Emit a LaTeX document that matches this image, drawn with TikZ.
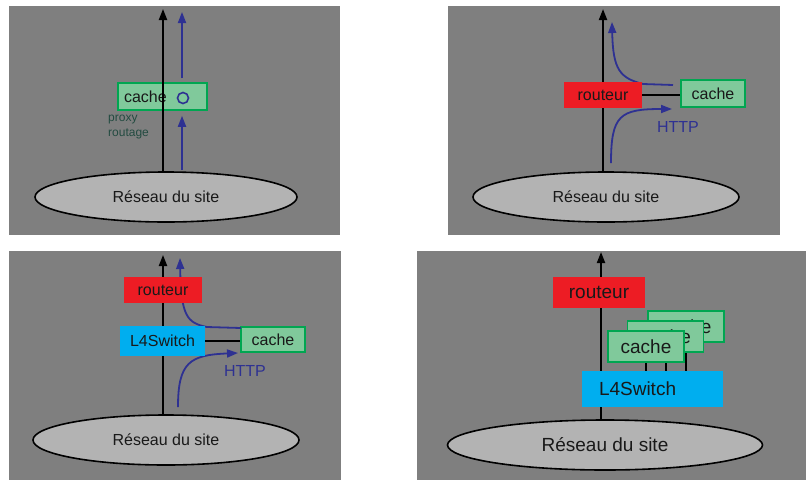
\documentclass[tikz,border=0pt]{standalone}
\usepackage{fontspec}
\setmainfont{Liberation Sans}
\usetikzlibrary{shapes.geometric,arrows.meta}

\definecolor{panelgray}{RGB}{127,127,127}
\definecolor{sitegray}{RGB}{179,179,179}
\definecolor{cachefill}{RGB}{128,201,155}
\definecolor{cacheedge}{RGB}{0,166,81}
\definecolor{routeurred}{RGB}{237,28,36}
\definecolor{switchcyan}{RGB}{0,174,239}
\definecolor{flowblue}{RGB}{46,49,146}
\definecolor{proxytext}{RGB}{35,75,65}

\newcommand{\smalltxt}{\fontsize{12}{15}\selectfont}
\newcommand{\normtxt}{\fontsize{16}{19}\selectfont}
\newcommand{\bigtxt}{\fontsize{19}{23}\selectfont}

\begin{document}
\begin{tikzpicture}[x=1pt,y=-1pt,
	panel/.style={fill=panelgray},
	site/.style={ellipse, draw=black, line width=1.6pt, fill=sitegray, inner sep=0pt, minimum height=50pt, font=\normtxt, text=black!90},
	cachebox/.style={draw=cacheedge, line width=1.6pt, fill=cachefill, inner sep=0pt, font=\normtxt, text=black!90},
	routeurbox/.style={fill=routeurred, inner sep=0pt, font=\normtxt, text=black!90},
	switchbox/.style={fill=switchcyan, inner sep=0pt, font=\normtxt, text=black!90},
	link/.style={draw=black, line width=2pt},
	uplink/.style={link, -{Triangle[length=11pt,width=8pt]}},
	flow/.style={draw=flowblue, line width=1.8pt, -{Triangle[length=11pt,width=8pt]}},
	httplabel/.style={text=flowblue, font=\normtxt, inner sep=0pt}]
	\useasboundingbox (0,0) rectangle (806,480);

	% proxy
	\fill[panel] (9,6) rectangle (340,235);
	\node (site1) at (166,197)	[site, minimum width=262pt]	{Réseau du site};
	\node (cache1) at (162.5,96.5)	[cachebox, minimum width=89pt, minimum height=27pt, text width=77pt, inner xsep=6pt, align=left]	{cache};
	\node (proxy1) at (183,98)	[circle, draw=flowblue, line width=1.6pt, minimum size=11pt, inner sep=0pt]	{};
	\node (routage1) at (108,127)	[anchor=west, inner sep=0pt, align=left, text=proxytext, font=\smalltxt]	{proxy\\routage};
	\coordinate (top1) at (163,9);
	\coordinate (in1) at (182,170);
	\coordinate (out1) at (182,12);
	\draw[uplink] (top1 |- site1.north) -- (top1);
	\draw[flow, shorten >=5pt] (in1) -- (in1 |- cache1.south);
	\draw[flow, shorten <=4pt] (out1 |- cache1.north) -- (out1);

	% routeur + cache
	\fill[panel] (448,6) rectangle (780,235);
	\node (site2) at (606,197)	[site, minimum width=266pt]	{Réseau du site};
	\coordinate (top2) at (603,9);
	\draw[uplink] (top2 |- site2.north) -- (top2);
	\node (cache2) at (713,93.5)	[cachebox, minimum width=64pt, minimum height=27pt]	{cache};
	\coordinate (ret2) at (673,85);
	\coordinate (out2) at (612,22);
	\coordinate (in2) at (611,163);
	\coordinate (fwd2) at (672,109);
	\draw[flow] (ret2) -- (643,84) .. controls (620,78) and (613,70) .. (out2);
	\draw[flow] (in2) .. controls (611,115) and (620,109) .. (fwd2);
	\node (http2) at (678,127)	[httplabel]	{HTTP};
	\node (routeur2) at (603,95)	[routeurbox, minimum width=78pt, minimum height=26pt]	{routeur};
	\draw[link] (routeur2.east) -- (routeur2.east -| cache2.west);

	% L4 switch + cache
	\fill[panel] (9,251) rectangle (341,480);
	\node (site3) at (166,440)	[site, minimum width=266pt]	{Réseau du site};
	\coordinate (top3) at (163,255);
	\draw[uplink] (top3 |- site3.north) -- (top3);
	\node (cache3) at (273,339.5)	[cachebox, minimum width=64pt, minimum height=25pt]	{cache};
	\coordinate (ret3) at (241,328);
	\coordinate (out3) at (180,258);
	\coordinate (in3) at (178,407);
	\coordinate (fwd3) at (238,353);
	\draw[flow] (ret3) -- (207,327) .. controls (187,323) and (181,316) .. (out3);
	\draw[flow] (in3) .. controls (178,362) and (190,355) .. (fwd3);
	\node (http3) at (245,371)	[httplabel]	{HTTP};
	\node (routeur3) at (163,290)	[routeurbox, minimum width=78pt, minimum height=26pt]	{routeur};
	\node (switch3) at (162.5,341)	[switchbox, minimum width=85pt, minimum height=30pt]	{L4Switch};
	\draw[link] (switch3.east) -- (switch3.east -| cache3.west);

	% L4 switch + several caches
	\fill[panel] (417,251) rectangle (806,480);
	\node (site4) at (605,445)	[site, minimum width=315pt, font=\bigtxt]	{Réseau du site};
	\coordinate (top4) at (601,252);
	\draw[uplink] (top4 |- site4.north) -- (top4);
	\node (routeur4) at (599,292.5)	[routeurbox, minimum width=92pt, minimum height=31pt, font=\bigtxt]	{routeur};
	\node (switch4) at (652.5,389)	[switchbox, minimum width=141pt, minimum height=36pt, text width=107pt, inner xsep=17pt, align=left, font=\bigtxt]	{L4Switch};
	\node (cache4c) at (686,326.5)	[cachebox, minimum width=76pt, minimum height=31pt, font=\bigtxt]	{cache};
	\draw[link] (cache4c.south) -- (cache4c.south |- switch4.north);
	\node (cache4b) at (665.5,336.5)	[cachebox, minimum width=76pt, minimum height=31pt, font=\bigtxt]	{cache};
	\draw[link] (cache4b.south) -- (cache4b.south |- switch4.north);
	\node (cache4a) at (646,346.5)	[cachebox, minimum width=76pt, minimum height=31pt, font=\bigtxt]	{cache};
	\draw[link] (cache4a.south) -- (cache4a.south |- switch4.north);
\end{tikzpicture}
\end{document}
